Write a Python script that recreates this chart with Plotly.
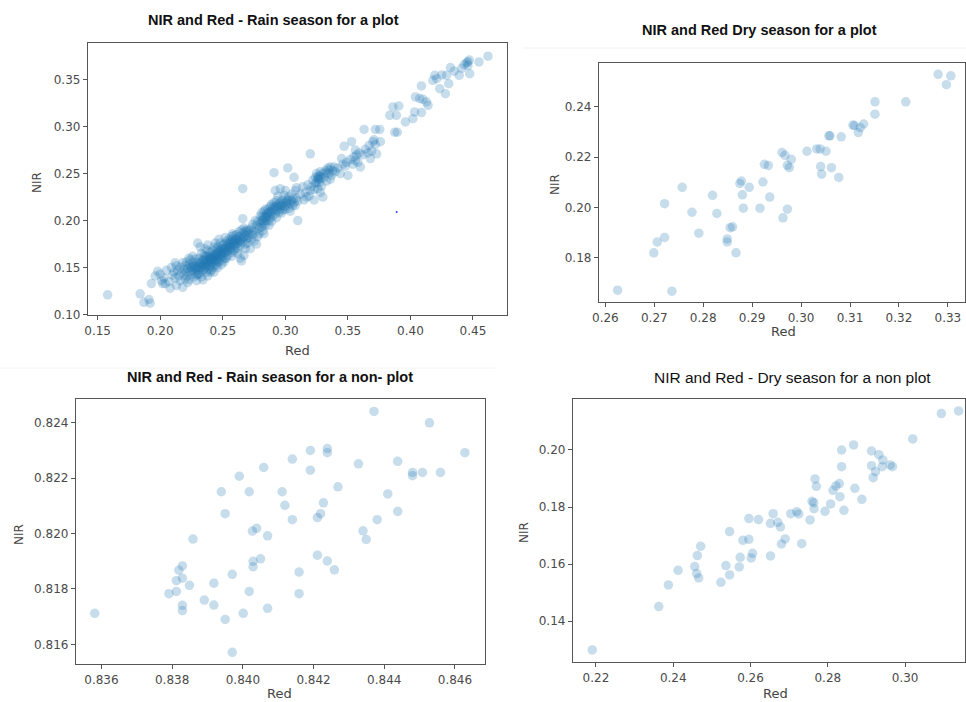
import plotly.graph_objects as go

# ---------------- DATA (Red, NIR) ----------------
rain_plot_points = [
    (0.158, 0.121), (0.184, 0.122), (0.187, 0.113), (0.191, 0.116), (0.192, 0.112),
    (0.193, 0.133), (0.196, 0.141), (0.198, 0.146), (0.201, 0.136), (0.202, 0.133),
    (0.200, 0.143), (0.203, 0.139), (0.205, 0.147), (0.207, 0.135), (0.208, 0.128),
    (0.209, 0.150), (0.210, 0.142), (0.204, 0.133),
    (0.211, 0.145), (0.212, 0.139), (0.213, 0.131), (0.213, 0.152), (0.214, 0.147),
    (0.215, 0.141), (0.212, 0.155),
    (0.216, 0.136), (0.216, 0.150), (0.217, 0.145), (0.218, 0.129), (0.218, 0.155),
    (0.219, 0.142), (0.219, 0.148), (0.220, 0.138), (0.220, 0.152),
    (0.221, 0.145), (0.221, 0.156), (0.222, 0.141), (0.222, 0.149), (0.223, 0.137),
    (0.223, 0.153), (0.224, 0.146), (0.224, 0.158), (0.225, 0.143), (0.225, 0.150),
    (0.222, 0.134), (0.223, 0.160),
    (0.226, 0.147), (0.226, 0.155), (0.227, 0.140), (0.227, 0.152), (0.228, 0.145),
    (0.228, 0.159), (0.229, 0.136), (0.229, 0.150), (0.230, 0.143), (0.230, 0.156),
    (0.226, 0.162), (0.228, 0.149), (0.230, 0.148), (0.229, 0.142),
    (0.231, 0.151), (0.231, 0.160), (0.232, 0.145), (0.232, 0.155), (0.233, 0.140),
    (0.233, 0.150), (0.234, 0.158), (0.234, 0.147), (0.235, 0.153), (0.235, 0.163),
    (0.231, 0.143), (0.233, 0.165), (0.232, 0.172), (0.234, 0.137), (0.235, 0.148),
    (0.230, 0.176),
    (0.236, 0.150), (0.236, 0.158), (0.237, 0.145), (0.237, 0.162), (0.238, 0.155),
    (0.238, 0.168), (0.239, 0.148), (0.239, 0.160), (0.240, 0.152), (0.240, 0.166),
    (0.236, 0.170), (0.237, 0.152), (0.238, 0.141), (0.239, 0.155), (0.240, 0.158),
    (0.238, 0.174), (0.240, 0.145),
    (0.241, 0.155), (0.241, 0.163), (0.242, 0.150), (0.242, 0.168), (0.243, 0.158),
    (0.243, 0.172), (0.244, 0.153), (0.244, 0.164), (0.245, 0.160), (0.245, 0.170),
    (0.241, 0.147), (0.242, 0.159), (0.243, 0.145), (0.244, 0.176), (0.245, 0.152),
    (0.242, 0.162), (0.244, 0.158),
    (0.246, 0.162), (0.246, 0.172), (0.247, 0.156), (0.247, 0.166), (0.248, 0.160),
    (0.248, 0.176), (0.249, 0.164), (0.249, 0.170), (0.250, 0.158), (0.250, 0.174),
    (0.246, 0.150), (0.247, 0.180), (0.248, 0.168), (0.249, 0.153), (0.250, 0.166),
    (0.245, 0.165),
    (0.251, 0.165), (0.251, 0.175), (0.252, 0.160), (0.252, 0.170), (0.253, 0.168),
    (0.253, 0.178), (0.254, 0.163), (0.254, 0.173), (0.255, 0.170), (0.255, 0.180),
    (0.251, 0.156), (0.252, 0.182), (0.253, 0.160), (0.254, 0.168), (0.255, 0.175),
    (0.256, 0.168), (0.256, 0.178), (0.257, 0.172), (0.257, 0.183), (0.258, 0.166),
    (0.258, 0.176), (0.259, 0.174), (0.259, 0.184), (0.260, 0.170), (0.260, 0.180),
    (0.257, 0.162), (0.258, 0.186), (0.259, 0.168), (0.260, 0.175),
    (0.261, 0.175), (0.261, 0.185), (0.262, 0.170), (0.262, 0.180), (0.263, 0.178),
    (0.263, 0.188), (0.264, 0.173), (0.264, 0.183), (0.265, 0.180), (0.265, 0.190),
    (0.262, 0.165), (0.264, 0.160), (0.265, 0.157), (0.266, 0.234),
    (0.266, 0.177), (0.266, 0.187), (0.267, 0.182), (0.267, 0.192), (0.268, 0.175),
    (0.268, 0.185), (0.269, 0.180), (0.269, 0.190), (0.270, 0.184), (0.266, 0.202),
    (0.267, 0.163), (0.268, 0.170), (0.270, 0.176),
    (0.271, 0.182), (0.271, 0.190), (0.272, 0.186), (0.273, 0.180), (0.273, 0.192),
    (0.274, 0.185), (0.275, 0.190), (0.275, 0.178), (0.272, 0.170), (0.274, 0.196),
    (0.276, 0.188), (0.277, 0.195), (0.278, 0.183), (0.278, 0.199), (0.279, 0.192),
    (0.280, 0.197), (0.280, 0.205), (0.277, 0.175), (0.279, 0.186), (0.276, 0.200),
    (0.281, 0.200), (0.281, 0.208), (0.282, 0.195), (0.282, 0.204), (0.283, 0.210),
    (0.283, 0.198), (0.284, 0.203), (0.284, 0.212), (0.285, 0.200), (0.285, 0.207),
    (0.281, 0.193), (0.282, 0.189), (0.283, 0.186), (0.284, 0.195),
    (0.286, 0.205), (0.286, 0.212), (0.287, 0.200), (0.287, 0.209), (0.288, 0.215),
    (0.288, 0.203), (0.289, 0.208), (0.289, 0.217), (0.290, 0.211), (0.290, 0.205),
    (0.287, 0.195), (0.289, 0.199),
    (0.291, 0.212), (0.291, 0.219), (0.292, 0.207), (0.292, 0.215), (0.293, 0.211),
    (0.293, 0.221), (0.294, 0.214), (0.295, 0.218), (0.295, 0.209), (0.292, 0.232),
    (0.291, 0.251), (0.294, 0.226), (0.293, 0.203),
    (0.296, 0.212), (0.296, 0.220), (0.297, 0.216), (0.298, 0.211), (0.298, 0.222),
    (0.299, 0.215), (0.300, 0.219), (0.300, 0.212), (0.297, 0.208), (0.299, 0.227),
    (0.296, 0.234), (0.300, 0.232),
    (0.301, 0.216), (0.301, 0.222), (0.302, 0.219), (0.303, 0.213), (0.303, 0.225),
    (0.304, 0.218), (0.305, 0.221), (0.302, 0.256), (0.305, 0.228), (0.304, 0.210),
    (0.306, 0.216), (0.306, 0.223), (0.307, 0.219), (0.308, 0.216), (0.308, 0.232),
    (0.309, 0.235), (0.310, 0.200), (0.310, 0.221), (0.307, 0.246), (0.309, 0.224),
    (0.312, 0.228), (0.314, 0.236), (0.315, 0.222), (0.316, 0.230), (0.318, 0.238),
    (0.319, 0.226), (0.320, 0.271), (0.320, 0.232), (0.317, 0.225),
    (0.321, 0.236), (0.322, 0.243), (0.323, 0.233), (0.323, 0.222), (0.324, 0.246),
    (0.325, 0.240), (0.325, 0.250), (0.326, 0.234), (0.326, 0.244), (0.327, 0.248),
    (0.327, 0.240), (0.328, 0.252), (0.328, 0.230), (0.329, 0.245), (0.330, 0.250),
    (0.330, 0.225), (0.329, 0.237), (0.324, 0.240),
    (0.331, 0.246), (0.332, 0.253), (0.333, 0.242), (0.334, 0.256), (0.335, 0.250),
    (0.336, 0.257), (0.337, 0.248), (0.338, 0.253), (0.339, 0.257), (0.340, 0.252),
    (0.336, 0.244),
    (0.342, 0.256), (0.344, 0.250), (0.346, 0.260), (0.348, 0.258), (0.350, 0.248),
    (0.349, 0.262), (0.347, 0.279), (0.345, 0.266),
    (0.352, 0.265), (0.353, 0.284), (0.354, 0.260), (0.355, 0.268), (0.356, 0.264),
    (0.357, 0.270), (0.358, 0.262), (0.359, 0.272), (0.360, 0.257), (0.356, 0.275),
    (0.362, 0.270), (0.363, 0.297), (0.364, 0.276), (0.366, 0.272), (0.367, 0.280),
    (0.368, 0.266), (0.369, 0.274), (0.370, 0.284), (0.371, 0.286), (0.372, 0.281),
    (0.372, 0.297), (0.373, 0.271),
    (0.376, 0.284), (0.3755, 0.297), (0.3835, 0.312), (0.3888, 0.312), (0.3907, 0.322),
    (0.3875, 0.294), (0.3895, 0.294), (0.386, 0.321),
    (0.396, 0.305), (0.402, 0.3085), (0.4034, 0.3156), (0.4088, 0.3149), (0.404, 0.3316),
    (0.4074, 0.3298), (0.4128, 0.3263), (0.4141, 0.3227), (0.4088, 0.3433), (0.410, 0.329),
    (0.418, 0.3493), (0.4194, 0.3546), (0.4234, 0.3404), (0.428, 0.335), (0.4288, 0.3546),
    (0.4306, 0.3457), (0.421, 0.351), (0.425, 0.355),
    (0.432, 0.3628), (0.435, 0.359), (0.439, 0.3546), (0.441, 0.362), (0.443, 0.366),
    (0.445, 0.368), (0.446, 0.369), (0.4474, 0.3564), (0.446, 0.365), (0.447, 0.371),
    (0.4548, 0.3688), (0.462, 0.375),
    # extra points in the dense core
    (0.228, 0.152), (0.232, 0.150), (0.235, 0.158), (0.237, 0.156), (0.239, 0.162),
    (0.241, 0.158), (0.243, 0.162), (0.245, 0.163), (0.247, 0.168), (0.249, 0.166),
    (0.251, 0.170), (0.253, 0.172), (0.256, 0.174), (0.258, 0.180), (0.262, 0.176),
    (0.264, 0.178), (0.240, 0.160), (0.236, 0.154), (0.233, 0.154), (0.246, 0.158),
    (0.285, 0.204), (0.288, 0.209), (0.283, 0.203), (0.296, 0.216), (0.327, 0.244),
    (0.224, 0.150), (0.226, 0.151), (0.231, 0.155), (0.234, 0.152), (0.236, 0.162),
    (0.238, 0.158), (0.239, 0.151), (0.241, 0.160), (0.242, 0.155), (0.244, 0.161),
    (0.245, 0.156), (0.246, 0.166), (0.248, 0.163), (0.250, 0.162), (0.250, 0.170),
    (0.252, 0.166), (0.254, 0.176), (0.256, 0.171), (0.257, 0.177), (0.259, 0.178),
    (0.261, 0.180), (0.263, 0.183), (0.266, 0.182), (0.268, 0.188), (0.270, 0.188),
    (0.282, 0.200), (0.286, 0.208), (0.290, 0.214), (0.293, 0.216), (0.298, 0.218),
    (0.302, 0.222), (0.326, 0.246), (0.328, 0.247), (0.333, 0.251), (0.335, 0.254),
]
stray_pixel = [(0.389, 0.209)]

dry_plot_points = [
    (0.2625, 0.1672), (0.2736, 0.1668), (0.2699, 0.1820), (0.2706, 0.1863), (0.2721, 0.1881),
    (0.2721, 0.2015), (0.2757, 0.2080), (0.2777, 0.1981), (0.2791, 0.1898), (0.2819, 0.2048),
    (0.2828, 0.1976), (0.2849, 0.1875), (0.2849, 0.1863), (0.2855, 0.1920), (0.2860, 0.1923),
    (0.2867, 0.1820), (0.2875, 0.2095), (0.2878, 0.2105), (0.2880, 0.2050), (0.2882, 0.1997),
    (0.2894, 0.2080), (0.2916, 0.1997), (0.2922, 0.2101), (0.2925, 0.2171), (0.2933, 0.2166),
    (0.2936, 0.2041), (0.2961, 0.2218), (0.2963, 0.1959), (0.2967, 0.2207), (0.2972, 0.1993),
    (0.2972, 0.2167), (0.2976, 0.2158), (0.2980, 0.2191), (0.3012, 0.2223), (0.3032, 0.2232),
    (0.3039, 0.2232), (0.3040, 0.2162), (0.3042, 0.2132), (0.3051, 0.2223), (0.3057, 0.2284),
    (0.3059, 0.2284), (0.3062, 0.2158), (0.3077, 0.2119), (0.3082, 0.2280), (0.3106, 0.2327),
    (0.3109, 0.2325), (0.3117, 0.2297), (0.3121, 0.2317), (0.3128, 0.2331), (0.3151, 0.2419),
    (0.3151, 0.2370), (0.3214, 0.2419), (0.3280, 0.2528), (0.3297, 0.2487), (0.3306, 0.2522),
]

rain_nonplot_points = [
    (0.83581, 0.81712), (0.83791, 0.81783), (0.83812, 0.81830), (0.83812, 0.81791),
    (0.83819, 0.81868), (0.83829, 0.81883), (0.83829, 0.81839), (0.83829, 0.81741),
    (0.83829, 0.81722), (0.83849, 0.81813), (0.83859, 0.81980), (0.83891, 0.81760),
    (0.83918, 0.81821), (0.83918, 0.81742), (0.83939, 0.82151), (0.83950, 0.82072),
    (0.83950, 0.81690), (0.83970, 0.81853), (0.83970, 0.81571), (0.83990, 0.82207),
    (0.84001, 0.81712), (0.84018, 0.82151), (0.84018, 0.81791), (0.84027, 0.82009),
    (0.84029, 0.81900), (0.84029, 0.81880), (0.84039, 0.82019), (0.84050, 0.81909),
    (0.84059, 0.82239), (0.84070, 0.81992), (0.84070, 0.81730), (0.84111, 0.82151),
    (0.84119, 0.82102), (0.84140, 0.82269), (0.84140, 0.82050), (0.84159, 0.81861),
    (0.84159, 0.81783), (0.84191, 0.82300), (0.84191, 0.82229), (0.84211, 0.82058),
    (0.84211, 0.81922), (0.84220, 0.82072), (0.84228, 0.82111), (0.84239, 0.82307),
    (0.84239, 0.82292), (0.84239, 0.81901), (0.84259, 0.81869), (0.84269, 0.82169),
    (0.84327, 0.82252), (0.84340, 0.82010), (0.84349, 0.81979), (0.84371, 0.82441),
    (0.84380, 0.82050), (0.84410, 0.82143), (0.84438, 0.82261), (0.84438, 0.82080),
    (0.84480, 0.82221), (0.84480, 0.82209), (0.84508, 0.82221), (0.84528, 0.82400),
    (0.84559, 0.82221), (0.84628, 0.82292),
]

dry_nonplot_points = [
    (0.21905, 0.12996), (0.23626, 0.14514), (0.23875, 0.15273), (0.24125, 0.15786),
    (0.24555, 0.15915), (0.24606, 0.15670), (0.24658, 0.15518), (0.24624, 0.16300),
    (0.24710, 0.16627), (0.25234, 0.15366), (0.25363, 0.15950), (0.25458, 0.15623),
    (0.25458, 0.17141), (0.25708, 0.15903), (0.25733, 0.16242), (0.25802, 0.16837),
    (0.25957, 0.16872), (0.25957, 0.17596), (0.26017, 0.16218), (0.26052, 0.16382),
    (0.26206, 0.17561), (0.26516, 0.16288), (0.26516, 0.17432), (0.26585, 0.17771),
    (0.26705, 0.17467), (0.26774, 0.17304), (0.26800, 0.16709), (0.26895, 0.16884),
    (0.27041, 0.17771), (0.27196, 0.17841), (0.27247, 0.17759), (0.27325, 0.16720),
    (0.27540, 0.17549), (0.27591, 0.18203), (0.27634, 0.18156), (0.27643, 0.17946),
    (0.27669, 0.18985), (0.27703, 0.18728), (0.27927, 0.17853), (0.28073, 0.18110),
    (0.28133, 0.18589), (0.28211, 0.18740), (0.28297, 0.18822), (0.28314, 0.18366),
    (0.28357, 0.19417), (0.28357, 0.20000), (0.28417, 0.17888), (0.28667, 0.20176),
    (0.28701, 0.18659), (0.28882, 0.18273), (0.29131, 0.19965), (0.29131, 0.19452),
    (0.29174, 0.19032), (0.29234, 0.19242), (0.29320, 0.19837), (0.29406, 0.19417),
    (0.29424, 0.19650), (0.29613, 0.19475), (0.29673, 0.19417), (0.30198, 0.20387),
    (0.30938, 0.21274), (0.31385, 0.21367),
]

# tick labels
tl_xticks = [0.15, 0.20, 0.25, 0.30, 0.35, 0.40, 0.45]
tl_yticks = [0.10, 0.15, 0.20, 0.25, 0.30, 0.35]
tr_xticks = [0.26, 0.27, 0.28, 0.29, 0.30, 0.31, 0.32, 0.33]
tr_yticks = [0.18, 0.20, 0.22, 0.24]
bl_xticks = [0.836, 0.838, 0.840, 0.842, 0.844, 0.846]
bl_yticks = [0.816, 0.818, 0.820, 0.822, 0.824]
br_xticks = [0.22, 0.24, 0.26, 0.28, 0.30]
br_yticks = [0.14, 0.16, 0.18, 0.20]

titles = [
    "NIR and Red - Rain season for a plot",
    "NIR and Red Dry season for a plot",
    "NIR and Red - Rain season for a non- plot",
    "NIR and Red - Dry season for a non plot",
]

# ---------------- FIGURE ----------------
W, H = 966, 702
BLUE = "#1f77b4"

def px(x):
    return x / W

def py(y):
    return 1 - y / H

panels = [
    (rain_plot_points, "x", "y", (88, 507), (43, 315), (0.1423, 0.4772), (0.0995, 0.389), tl_xticks, tl_yticks, "{:.2f}"),
    (dry_plot_points, "x2", "y2", (599, 965), (63, 302), (0.2587, 0.3335), (0.1625, 0.2573), tr_xticks, tr_yticks, "{:.2f}"),
    (rain_nonplot_points, "x3", "y3", (76, 485), (399, 664), (0.83528, 0.84685), (0.81529, 0.82486), bl_xticks, bl_yticks, "{:.3f}"),
    (dry_nonplot_points, "x4", "y4", (573, 965), (399, 662), (0.21406, 0.3155), (0.12574, 0.21786), br_xticks, br_yticks, "{:.2f}"),
]

fig = go.Figure()
layout_axes = {}
tickfont = dict(family="DejaVu Sans", size=12, color="#4a4a4a")
for pts, xa, ya, xd, yd, xr, yr, xt, yt, fmt in panels:
    fig.add_trace(go.Scatter(
        x=[p[0] for p in pts], y=[p[1] for p in pts],
        mode="markers", xaxis=xa, yaxis=ya, showlegend=False, hoverinfo="skip",
        marker=dict(color=BLUE, size=9.5, opacity=0.25, line=dict(width=0)),
    ))
    xkey = "xaxis" + xa[1:]
    ykey = "yaxis" + ya[1:]
    common = dict(showline=True, mirror=True, linecolor="#555555", linewidth=1.3,
                  ticks="outside", ticklen=4, tickwidth=1, tickcolor="#555555",
                  showgrid=False, zeroline=False, tickfont=tickfont, fixedrange=True,
                  automargin=False)
    layout_axes[xkey] = dict(domain=[px(xd[0]), px(xd[1])], range=list(xr),
                             anchor=ya, tickvals=xt, ticktext=[fmt.format(v) for v in xt], **common)
    layout_axes[ykey] = dict(domain=[py(yd[1]), py(yd[0])], range=list(yr),
                             anchor=xa, tickvals=yt, ticktext=[fmt.format(v) for v in yt], **common)

fig.add_trace(go.Scatter(
    x=[p[0] for p in stray_pixel], y=[p[1] for p in stray_pixel],
    mode="markers", xaxis="x", yaxis="y", showlegend=False, hoverinfo="skip",
    marker=dict(color="#3040ff", size=2, line=dict(width=0)),
))

annotations = []
title_pos = [(273, 20, True), (759, 30, True), (270, 377, True), (792, 377, False)]
for t, (tx, ty, bold) in zip(titles, title_pos):
    annotations.append(dict(
        text=f"<b>{t}</b>" if bold else t, x=px(tx), y=py(ty), xref="paper", yref="paper",
        xanchor="center", yanchor="middle", showarrow=False,
        font=dict(family="Liberation Sans, Arial", size=14.5 if bold else 15.5, color="#111111"),
    ))
red_pos = [(297, 350), (783, 332), (279, 693), (775, 693)]
nir_pos = [(37, 183), (555, 185), (19, 535), (524, 533)]
for (rx, ry) in red_pos:
    annotations.append(dict(text="Red", x=px(rx), y=py(ry), xref="paper", yref="paper",
                            xanchor="center", yanchor="middle", showarrow=False,
                            font=dict(family="DejaVu Sans", size=13, color="#444444")))
for (nx, ny) in nir_pos:
    annotations.append(dict(text="NIR", x=px(nx), y=py(ny), xref="paper", yref="paper",
                            xanchor="center", yanchor="middle", showarrow=False, textangle=-90,
                            font=dict(family="DejaVu Sans", size=12, color="#444444")))

shapes = [
    dict(type="line", xref="paper", yref="paper", x0=px(523), x1=1, y0=py(48), y1=py(48),
         line=dict(color="#f0f0f0", width=1)),
    dict(type="line", xref="paper", yref="paper", x0=0, x1=px(495), y0=py(368), y1=py(368),
         line=dict(color="#f4f4f4", width=1)),
]

fig.update_layout(
    template="none",
    width=W, height=H, margin=dict(l=0, r=0, t=0, b=0, pad=0),
    paper_bgcolor="white", plot_bgcolor="white",
    annotations=annotations, shapes=shapes, **layout_axes,
)

fig.write_html(
    "out.html",
    config={"displayModeBar": False},
    post_script="document.body.style.margin='0';document.body.style.overflow='hidden';",
)
